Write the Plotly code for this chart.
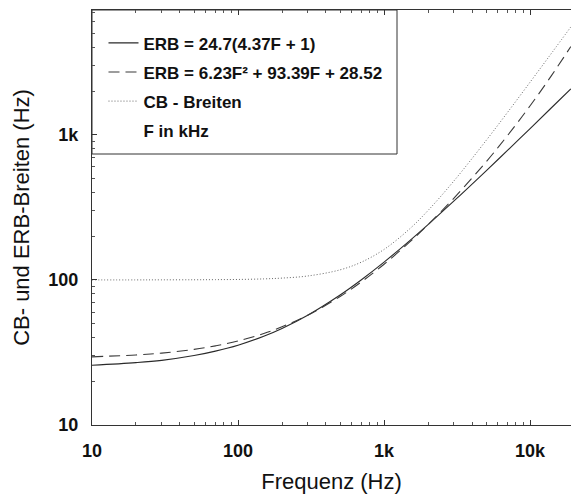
import plotly.graph_objects as go

freq_hz = [10, 20, 30, 50, 70, 100, 150, 200, 300, 500, 700, 1000, 1500,
           2000, 3000, 5000, 7000, 10000, 14000, 19000]

# ERB = 24.7(4.37F + 1)
erb_linear = [25.8, 26.9, 27.9, 30.1, 32.3, 35.5, 40.9, 46.3, 57.1, 78.7,
              100.3, 132.6, 186.6, 240.6, 348.5, 564.4, 780.3, 1104, 1536, 2075]

# ERB = 6.23F² + 93.39F + 28.52
erb_quad = [29.5, 30.4, 31.3, 33.2, 35.1, 37.9, 42.7, 47.5, 57.1, 76.8,
            97.0, 128.1, 182.6, 240.2, 364.8, 651.2, 987.5, 1585, 2557, 4052]

# CB - Breiten
cb_width = [100.0, 100.0, 100.1, 100.2, 100.4, 100.7, 101.6, 102.9, 106.4, 117.3,
            132.6, 162.2, 225.2, 300.8, 479.2, 914, 1426, 2306, 3645, 5536]

names = ["ERB = 24.7(4.37F + 1)", "ERB = 6.23F² + 93.39F + 28.52",
         "CB - Breiten", "F in kHz"]

x_tickvals = [10, 100, 1000, 10000]
x_ticktext = ["10", "100", "1k", "10k"]
y_tickvals = [10, 100, 1000]
y_ticktext = ["10", "100", "1k"]

fig = go.Figure()
fig.add_trace(go.Scatter(x=freq_hz, y=erb_linear, mode="lines", name=names[0],
                         legendgroup="a", line=dict(color="#2a2a2a", width=1.1, shape="spline")))
fig.add_trace(go.Scatter(x=freq_hz, y=erb_quad, mode="lines", name=names[1],
                         legendgroup="b", line=dict(color="#3a3a3a", width=1.1, dash="11px,6px", shape="spline")))
fig.add_trace(go.Scatter(x=freq_hz, y=cb_width, mode="lines", name=names[2],
                         legendgroup="c", line=dict(color="#666666", width=1, dash="1px,2px", shape="spline")))
fig.add_trace(go.Scatter(x=[None], y=[None], mode="lines", name=names[3],
                         legendgroup="d", line=dict(color="rgba(0,0,0,0)", width=1)))

L, T, B = 92, 10, 72
W, H = 571, 497
pw = W - L
ph = H - T - B

fig.add_shape(type="rect", xref="paper", yref="paper",
              x0=0, x1=(397 - L) / pw, y0=(H - B - 154) / ph, y1=1,
              line=dict(color="#333", width=1), fillcolor="white", layer="below")

fig.update_layout(
    width=W, height=H,
    margin=dict(l=L, r=0, t=T, b=B),
    paper_bgcolor="white", plot_bgcolor="white",
    font=dict(family="Liberation Sans, Arial, sans-serif", color="#111111"),
    showlegend=True,
    legend=dict(x=0.024, y=0.963, xanchor="left", yanchor="top",
                bgcolor="rgba(0,0,0,0)", borderwidth=0,
                font=dict(size=17, weight="bold", color="#111111"),
                tracegroupgap=4, itemwidth=30),
    xaxis=dict(type="log", range=[1, 4.28], tickvals=x_tickvals, ticktext=x_ticktext,
               ticks="inside", ticklen=5, tickcolor="#333", showline=True, linecolor="#333",
               linewidth=1, mirror="ticks", showgrid=False, zeroline=False,
               tickfont=dict(size=18, weight="bold", color="#111111"),
               ticklabelstandoff=9,
               minor=dict(ticks="inside", ticklen=3, tickcolor="#555", showgrid=False,
                          dtick="D1"),
               title=dict(text="Frequenz (Hz)", font=dict(size=22, color="#111111"), standoff=14)),
    yaxis=dict(type="log", range=[1, 3.86], tickvals=y_tickvals, ticktext=y_ticktext,
               ticks="inside", ticklen=5, tickcolor="#333", showline=True, linecolor="#333",
               linewidth=1, mirror=False, showgrid=False, zeroline=False,
               tickfont=dict(size=18, weight="bold", color="#111111"),
               ticklabelstandoff=9,
               minor=dict(ticks="inside", ticklen=3, tickcolor="#555", showgrid=False,
                          dtick="D1"),
               title=dict(text="CB- und ERB-Breiten (Hz)", font=dict(size=22, color="#111111"),
                          standoff=12)),
)

fig.write_html("out.html")
